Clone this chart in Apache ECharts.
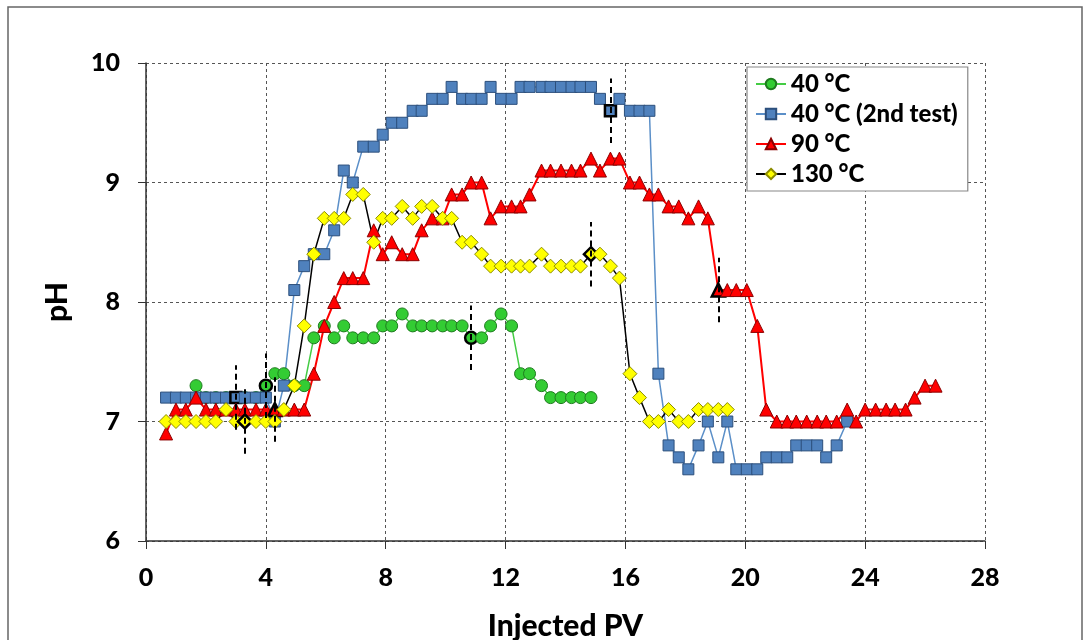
<!DOCTYPE html>
<html><head><meta charset="utf-8">
<script src="https://cdn.jsdelivr.net/npm/echarts@6/dist/echarts.min.js"></script>
<style>html,body{margin:0;padding:0;background:#fff}#c{width:1090px;height:640px}</style>
</head><body><div id="c"></div><script>
// Injected PV sampling positions (shared by all series)
const pv = [0.67,1.0,1.33,1.67,2.0,2.33,2.67,3.0,3.3,3.67,4.0,4.3,4.6,4.95,5.28,5.6,5.95,6.28,6.6,6.9,
  7.25,7.6,7.9,8.2,8.55,8.9,9.2,9.55,9.9,10.2,10.55,10.85,11.2,11.5,11.85,12.2,12.5,12.8,13.2,13.5,
  13.85,14.2,14.5,14.85,15.15,15.5,15.8,16.15,16.47,16.8,17.1,17.44,17.78,18.1,18.44,18.75,19.1,19.4,19.7,20.05,
  20.4,20.7,21.05,21.4,21.7,22.05,22.4,22.7,23.05,23.4,23.7,24.0,24.35,24.7,25.0,25.35,25.65,26.0,26.35];

const seriesNames = ['40 °C', '40 °C (2nd test)', '90 °C', '130 °C'];

// pH values; each series starts at the given pv index
const ph40Start = 3;
const ph40 = [7.3,7.2,7.2,7.2,7.2,7.2,7.2,7.3,7.4,7.4,7.3,7.3,7.7,7.8,7.7,7.8,7.7,7.7,7.7,7.8,
  7.8,7.9,7.8,7.8,7.8,7.8,7.8,7.8,7.7,7.7,7.8,7.9,7.8,7.4,7.4,7.3,7.2,7.2,7.2,7.2,7.2];
const ph40bStart = 0;
const ph40b = [7.2,7.2,7.2,7.2,7.2,7.2,7.2,7.2,7.2,7.2,7.2,7.0,7.3,8.1,8.3,8.4,8.4,8.6,9.1,9.0,
  9.3,9.3,9.4,9.5,9.5,9.6,9.6,9.7,9.7,9.8,9.7,9.7,9.7,9.8,9.7,9.7,9.8,9.8,9.8,9.8,
  9.8,9.8,9.8,9.8,9.7,9.6,9.7,9.6,9.6,9.6,7.4,6.8,6.7,6.6,6.8,7.0,6.7,7.0,6.6,6.6,
  6.6,6.7,6.7,6.7,6.8,6.8,6.8,6.7,6.8,7.0];
const ph90Start = 0;
const ph90 = [6.9,7.1,7.1,7.2,7.1,7.1,7.1,7.1,7.1,7.1,7.1,7.1,7.1,7.1,7.1,7.4,7.8,8.0,8.2,8.2,
  8.2,8.6,8.4,8.5,8.4,8.4,8.6,8.7,8.7,8.9,8.9,9.0,9.0,8.7,8.8,8.8,8.8,8.9,9.1,9.1,
  9.1,9.1,9.1,9.2,9.1,9.2,9.2,9.0,9.0,8.9,8.9,8.8,8.8,8.7,8.8,8.7,8.1,8.1,8.1,8.1,
  7.8,7.1,7.0,7.0,7.0,7.0,7.0,7.0,7.0,7.1,7.0,7.1,7.1,7.1,7.1,7.1,7.2,7.3,7.3];
const ph130Start = 0;
const ph130 = [7.0,7.0,7.0,7.0,7.0,7.0,7.1,7.0,7.0,7.0,7.0,7.0,7.1,7.3,7.8,8.4,8.7,8.7,8.7,8.9,
  8.9,8.5,8.7,8.7,8.8,8.7,8.8,8.8,8.7,8.7,8.5,8.5,8.4,8.3,8.3,8.3,8.3,8.3,8.4,8.3,
  8.3,8.3,8.3,8.4,8.4,8.3,8.2,7.4,7.2,7.0,7.0,7.1,7.0,7.0,7.1,7.1,7.1,7.1];

// highlighted (marked) sample indices into pv
const hl40 = [10, 31];
const hl40b = [7, 45];
const hl90 = [11, 56];
const hl130 = [8, 43];

const xTicks = [0, 28, 4];   // min, max, interval
const yTicks = [6, 10, 1];

function mk(name, vals, start, hl, symbol, size, fill, border, lineColor, lineW) {
  const data = vals.map((v, i) => {
    const idx = start + i;
    const item = { value: [pv[idx], v] };
    if (hl.includes(idx)) item.itemStyle = { borderColor: '#000', borderWidth: 2.5 };
    return item;
  });
  const ml = hl.map(idx => {
    const y = vals[idx - start];
    return [{ coord: [pv[idx], y - 0.27] }, { coord: [pv[idx], y + 0.27] }];
  });
  return {
    name, type: 'line', data, symbol, symbolSize: size, showAllSymbol: true,
    lineStyle: { color: lineColor, width: lineW },
    itemStyle: { color: fill, borderColor: border, borderWidth: 1 },
    markLine: { silent: true, symbol: ['none', 'none'], label: { show: false },
      lineStyle: { color: '#000', type: [6, 4], width: 2 }, data: ml, z: 10 },
    emphasis: { disabled: true }
  };
}

const chart = echarts.init(document.getElementById('c'));
const font = 'Lato';
const fw = 900;
chart.setOption({
  animation: false,
  backgroundColor: '#fff',
  graphic: [{ type: 'rect', shape: { x: 8, y: 7, width: 1074, height: 660 },
    style: { fill: 'none', stroke: '#666', lineWidth: 1.5 }, silent: true }],
  grid: { left: 146, right: 105, top: 63, bottom: 99, containLabel: false, outerBoundsMode: 'none' },
  legend: {
    orient: 'vertical', left: 747, top: 67, backgroundColor: '#fff',
    borderColor: '#888', borderWidth: 1.2, padding: [5, 10, 5, 8], itemGap: 6,
    itemWidth: 30, itemHeight: 13,
    textStyle: { fontFamily: font, fontWeight: fw, fontSize: 24, color: '#000' },
    data: seriesNames
  },
  xAxis: {
    type: 'value', min: xTicks[0], max: xTicks[1], interval: xTicks[2],
    name: 'Injected PV', nameLocation: 'middle', nameGap: 70,
    nameTextStyle: { fontFamily: font, fontWeight: fw, fontSize: 30, color: '#000' },
    axisLine: { lineStyle: { color: '#333', width: 1.5 } },
    axisTick: { show: true, length: 8, lineStyle: { color: '#333' } },
    axisLabel: { fontFamily: font, fontWeight: fw, fontSize: 25, color: '#000', margin: 24 },
    splitLine: { show: true, lineStyle: { color: '#555', type: [3, 3], width: 1 } }
  },
  yAxis: {
    type: 'value', min: yTicks[0], max: yTicks[1], interval: yTicks[2],
    name: 'pH', nameLocation: 'middle', nameGap: 74,
    nameTextStyle: { fontFamily: font, fontWeight: fw, fontSize: 30, color: '#000' },
    axisLine: { show: true, lineStyle: { color: '#333', width: 1.5 } },
    axisTick: { show: true, length: 8, lineStyle: { color: '#333' } },
    axisLabel: { fontFamily: font, fontWeight: fw, fontSize: 25, color: '#000', margin: 26 },
    splitLine: { show: true, lineStyle: { color: '#555', type: [3, 3], width: 1 } }
  },
  series: [
    mk(seriesNames[0], ph40, ph40Start, hl40, 'circle', 12, '#33CC33', '#1E7B1E', '#44CC44', 1.5),
    mk(seriesNames[1], ph40b, ph40bStart, hl40b, 'rect', 11, '#4F81BD', '#2C4F7C', '#5B8FC8', 1.5),
    mk(seriesNames[2], ph90, ph90Start, hl90, 'triangle', 13, '#FF0000', '#8B0000', '#FF0000', 2),
    mk(seriesNames[3], ph130, ph130Start, hl130, 'diamond', 14, '#FFFF00', '#8C8C00', '#000000', 1.5)
  ]
});
</script></body></html>
